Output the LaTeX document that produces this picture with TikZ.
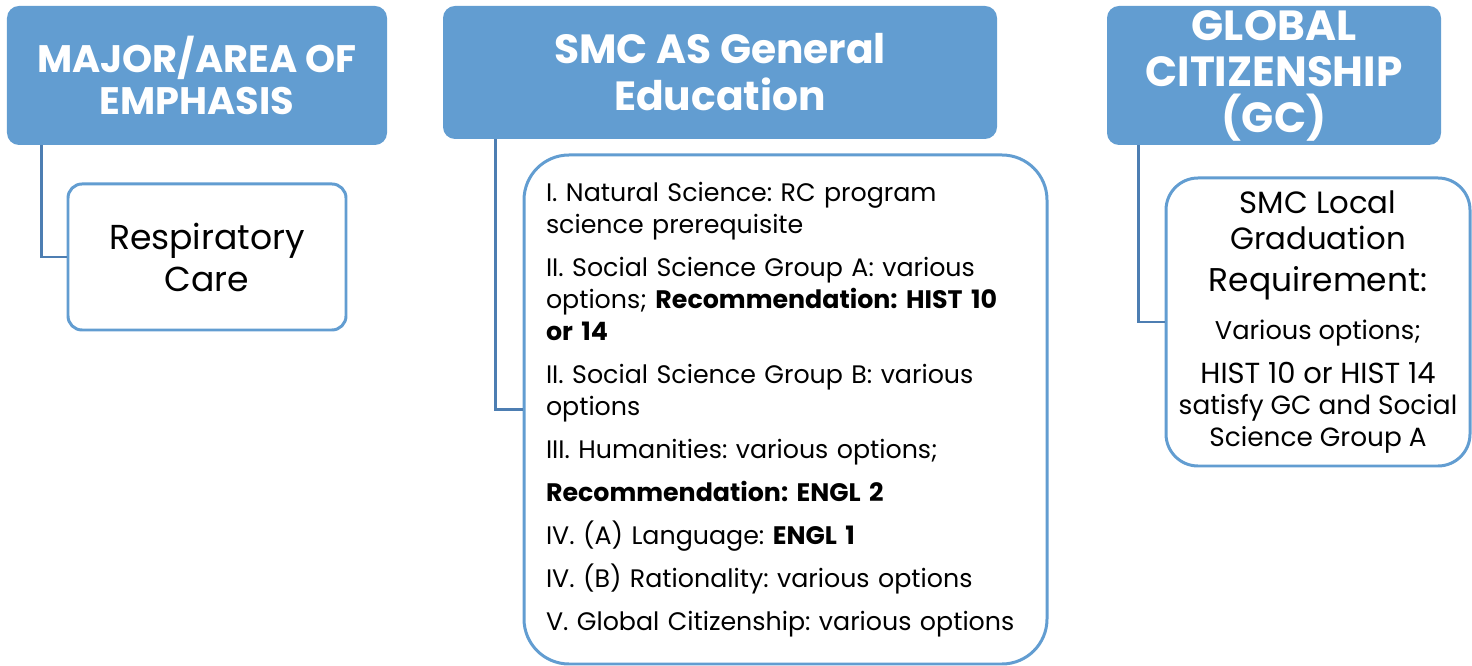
\documentclass[tikz,border=0pt]{standalone}
\usepackage{fontspec}
\setmainfont{Poppins}
\frenchspacing
\usetikzlibrary{positioning}
\definecolor{hdrblue}{RGB}{98,157,209}
\definecolor{linkblue}{RGB}{77,126,178}

\begin{document}
\begin{tikzpicture}[
        hdr/.style={fill=hdrblue, rounded corners=0.24cm, text=white, align=center, inner sep=0pt},
        item/.style={draw=hdrblue, line width=1.7pt, fill=white, align=center, inner sep=0pt},
        link/.style={draw=linkblue, line width=1.7pt}]
        \useasboundingbox (0,0) rectangle (29.44,-13.32);

        % Nodes
        \node (major) [hdr, minimum width=7.6cm, minimum height=2.78cm,
            font=\bfseries\fontsize{21.8}{24}\selectfont] at (3.94,-1.51)
            {MAJOR/AREA OF\\EMPHASIS};
        \node (gened) [hdr, minimum width=11.08cm, minimum height=2.66cm,
            font=\bfseries\fontsize{23.2}{26.7}\selectfont] at (14.4,-1.45)
            {SMC AS General\\Education};
        \node (gc) [hdr, minimum width=6.68cm, minimum height=2.78cm,
            font=\bfseries\fontsize{24}{26.2}\selectfont] at (25.48,-1.51)
            {GLOBAL\\CITIZENSHIP\\(GC)};

        \node (care) [item, rounded corners=0.28cm, minimum width=5.56cm, minimum height=2.92cm,
            font=\fontsize{19.7}{23.9}\selectfont] at (4.14,-5.14)
            {Respiratory\\Care};

        \node (areas) [item, rounded corners=0.9cm, minimum width=10.46cm, minimum height=10.18cm,
            text width=9.58cm, inner xsep=0.44cm, align=left,
            font=\fontsize{14.4}{18.2}\selectfont] at (15.71,-8.19)
            {I. Natural Science: RC program\\
            science prerequisite\\[6.3pt]
            II. Social Science Group A: various\\
            options; \textbf{Recommendation: HIST 10}\\
            \textbf{or 14}\\[6.3pt]
            II. Social Science Group B: various\\
            options\\[6.3pt]
            III. Humanities: various options;\\[6.3pt]
            \textbf{Recommendation: ENGL 2}\\[6.3pt]
            IV. (A) Language: \textbf{ENGL 1}\\[6.3pt]
            IV. (B) Rationality: various options\\[6.3pt]
            V. Global Citizenship: various options};

        \node (local) [item, rounded corners=0.64cm, minimum width=6.08cm, minimum height=5.76cm,
            font=\fontsize{15}{25}\selectfont] at (26.36,-6.44)
            {\fontsize{17.5}{25}\selectfont SMC Local\\[-4.5pt]
            \fontsize{17.5}{25}\selectfont Graduation\\[-1.1pt]
            \fontsize{18.7}{25}\selectfont Requirement:\\[2.3pt]
            \fontsize{14.6}{25}\selectfont Various options;\\
            \fontsize{16.5}{25}\selectfont HIST 10 or HIST 14\\[-7.4pt]
            satisfy GC and Social\\[-6.8pt]
            Science Group A};

        % Connectors
        \draw[link] ([xshift=0.7cm]major.south west) |- (care.west);
        \draw[link] ([xshift=1.06cm]gened.south west) |- (areas.west);
        \draw[link] ([xshift=0.64cm]gc.south west) |- (local.west);
\end{tikzpicture}
\end{document}
